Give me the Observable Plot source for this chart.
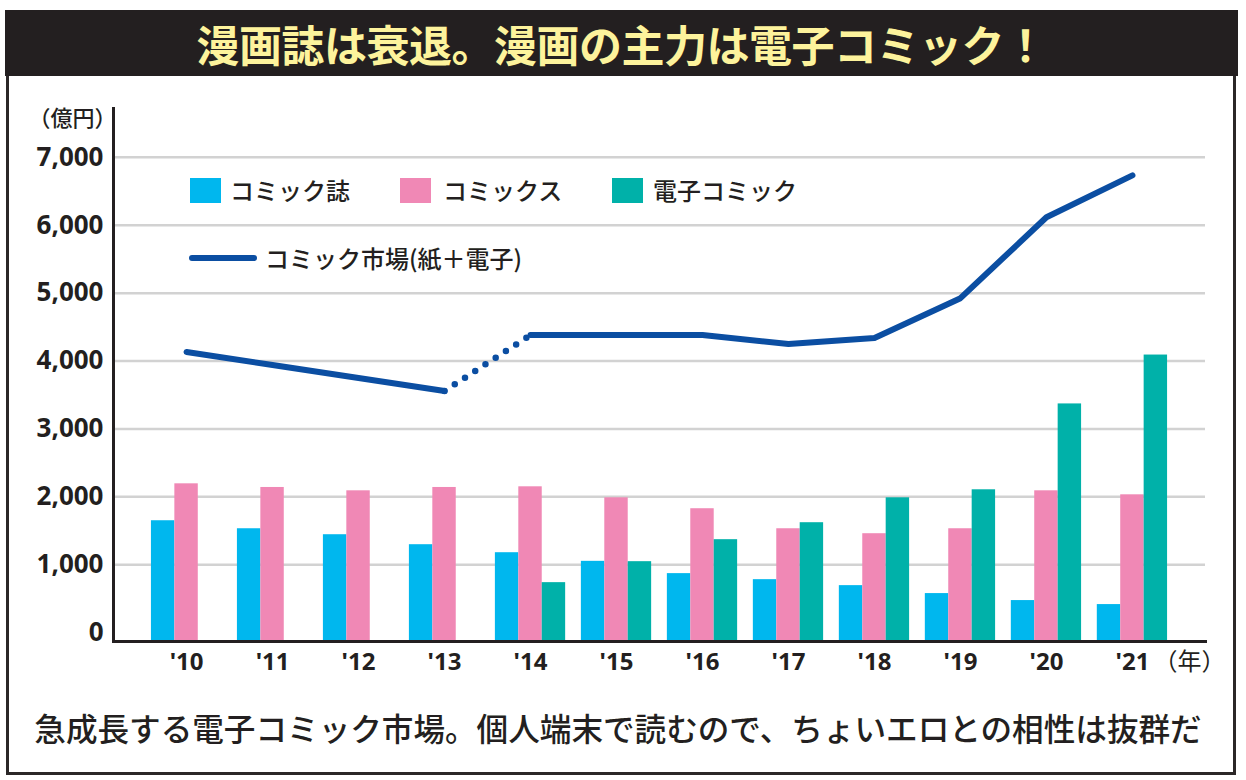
<!DOCTYPE html>
<html>
<head>
<meta charset="utf-8">
<script src="https://cdn.jsdelivr.net/npm/d3@7"></script>
<script src="https://cdn.jsdelivr.net/npm/@observablehq/plot@0.6"></script>
<style>
  html, body { margin: 0; padding: 0; background: #fff; }
  body { width: 1246px; height: 780px; position: relative; overflow: hidden;
         font-family: "Noto Sans CJK JP", "Noto Sans", sans-serif; color: #231f20; }
  #frame { position: absolute; left: 6px; top: 10px; width: 1224px; height: 759px;
           border: 3px solid #2b2728; }
  #title { position: absolute; left: 5px; top: 10px; width: 1233px; height: 66px;
           background: #231f20; color: #fdf39c; font-size: 43px; font-weight: 700;
           line-height: 66px; text-align: center; letter-spacing: -0.5px; }
  #chart { position: absolute; left: 0; top: 80px; }
  .sw { position: absolute; width: 31px; height: 25px; top: 178px; }
  .lg { position: absolute; font-size: 24px; line-height: 30px; top: 175px; font-weight: 500; white-space: nowrap; }
  #lline { position: absolute; left: 189px; top: 255px; width: 68px; height: 6px; border-radius: 3px; background: #0b4ea2; }
  #caption { position: absolute; left: 0; top: 707px; width: 1236px; text-align: center;
             font-size: 31.6px; line-height: 40px; font-weight: 500; white-space: nowrap; }
</style>
</head>
<body>
<div id="frame"></div>
<div id="title">漫画誌は衰退。漫画の主力は電子コミック！</div>
<div id="chart"></div>
<div id="legend"></div>
<div id="caption">急成長する電子コミック市場。個人端末で読むので、ちょいエロとの相性は抜群だ</div>
<script>
// ---- data (億円) ----
const years = [2010, 2011, 2012, 2013, 2014, 2015, 2016, 2017, 2018, 2019, 2020, 2021];
const yearLabels = ["'10", "'11", "'12", "'13", "'14", "'15", "'16", "'17", "'18", "'19", "'20", "'21"];
const comicMagazine = [1647, 1529, 1441, 1294, 1176, 1049, 868, 779, 691, 574, 471, 412];
const comicBooks = [2191, 2137, 2088, 2137, 2147, 1985, 1824, 1529, 1456, 1529, 2088, 2029];
const eComic = [null, null, null, null, 735, 1044, 1368, 1618, 1985, 2103, 3368, 4088];
const market = [4132, 3941, 3750, 3559, 4382, 4382, 4382, 4250, 4340, 4926, 6118, 6735];
const yTicks = [0, 1000, 2000, 3000, 4000, 5000, 6000, 7000];
const seriesNames = ["コミック誌", "コミックス", "電子コミック"];
const lineName = "コミック市場(紙＋電子)";
const colors = ["#00b7ee", "#f088b5", "#00b1a9"];
const lineColor = "#0b4ea2";

const rows = years.map((year, i) => ({
  year, label: yearLabels[i], mag: comicMagazine[i], books: comicBooks[i], e: eComic[i], market: market[i]
}));

// ---- layout ----
const W = 1246, H = 620;
const mL = 113, mR = 41, mT = 28, mB = 59;
const pIn = 0.7276, pOut = 0.7135;
const step = (W - mL - mR) / (years.length - pIn + 2 * pOut);
const bw = step * (1 - pIn);
const yMin = -132, yMax = 7720;
const ink = "#231f20";

const plot = Plot.plot({
  width: W, height: H,
  marginLeft: mL, marginRight: mR, marginTop: mT, marginBottom: mB,
  x: { type: "band", domain: years, paddingInner: pIn, paddingOuter: pOut, align: 0.5, round: false, axis: null },
  y: { domain: [yMin, yMax], axis: null },
  style: { fontFamily: "'Noto Sans', 'Noto Sans CJK JP', sans-serif", background: "transparent", color: ink },
  marks: [
    Plot.gridY(yTicks.filter(d => d > 0), { stroke: "#d2d2d2", strokeOpacity: 1, strokeWidth: 2.5 }),
    Plot.barY(rows, { x: "year", y1: () => yMin, y2: "mag", fill: colors[0], dx: -bw }),
    Plot.barY(rows, { x: "year", y1: () => yMin, y2: "books", fill: colors[1] }),
    Plot.barY(rows.filter(d => d.e != null), { x: "year", y1: () => yMin, y2: "e", fill: colors[2], dx: bw }),
    Plot.frame({ anchor: "left", stroke: ink, strokeWidth: 3 }),
    Plot.frame({ anchor: "bottom", stroke: ink, strokeWidth: 3 }),
    Plot.line(rows.filter(d => d.year <= 2013), { x: "year", y: "market", stroke: lineColor, strokeWidth: 6, strokeLinecap: "round", strokeLinejoin: "round" }),
    Plot.line(rows.filter(d => d.year >= 2013 && d.year <= 2014), { x: "year", y: "market", stroke: lineColor, strokeWidth: 6.5, strokeLinecap: "round", strokeDasharray: "0 12.2" }),
    Plot.line(rows.filter(d => d.year >= 2014), { x: "year", y: "market", stroke: lineColor, strokeWidth: 6, strokeLinecap: "round", strokeLinejoin: "round" }),
    Plot.text(yTicks, { y: d => d, text: d => d3.format(",")(d), frameAnchor: "left", textAnchor: "end", dx: -10, fontSize: 26, fontWeight: 700, fill: ink }),
    Plot.text(rows, { x: "year", text: "label", frameAnchor: "bottom", dy: 21, fontSize: 24, fontWeight: 700, fill: ink, lineAnchor: "middle" }),
    Plot.text(["（年）"], { frameAnchor: "bottom-right", textAnchor: "end", dx: 20, dy: 21, fontSize: 24, fill: ink, lineAnchor: "middle", fontFamily: "'Noto Sans CJK JP'" }),
    Plot.text(["（億円）"], { frameAnchor: "top-left", textAnchor: "end", dx: 3, dy: 10, fontSize: 22, fill: ink, lineAnchor: "middle", fontFamily: "'Noto Sans CJK JP'", fontWeight: 500 })
  ]
});
document.getElementById("chart").appendChild(plot);

// ---- legend ----
const lg = document.getElementById("legend");
const swX = [190, 400, 612], txX = [230, 443, 653];
seriesNames.forEach((name, i) => {
  const s = document.createElement("div");
  s.className = "sw"; s.style.left = swX[i] + "px"; s.style.background = colors[i];
  lg.appendChild(s);
  const t = document.createElement("div");
  t.className = "lg"; t.style.left = txX[i] + "px"; t.textContent = name;
  lg.appendChild(t);
});
const ll = document.createElement("div"); ll.id = "lline"; lg.appendChild(ll);
const lt = document.createElement("div");
lt.className = "lg"; lt.style.left = "265px"; lt.style.top = "243px"; lt.textContent = lineName;
lg.appendChild(lt);
</script>
</body>
</html>
